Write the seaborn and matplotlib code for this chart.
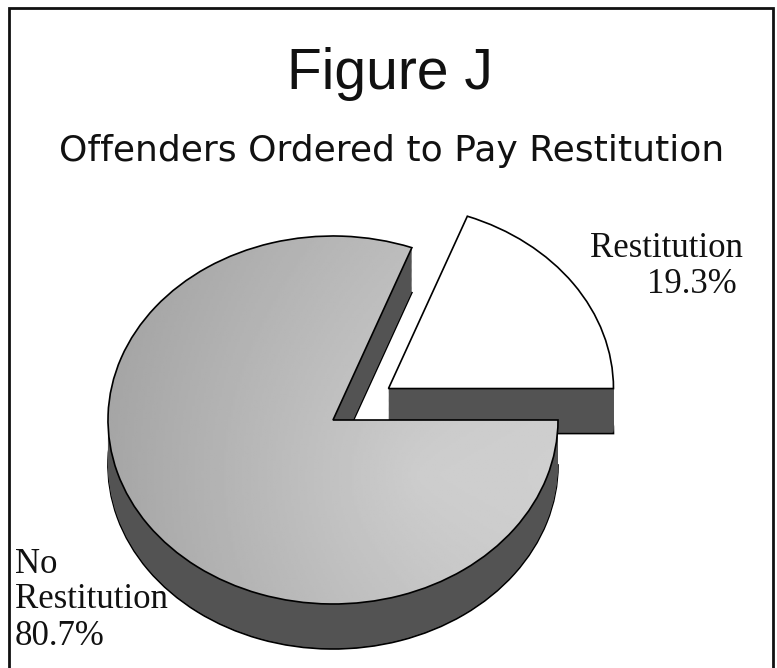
import numpy as np
import matplotlib.pyplot as plt
import seaborn as sns

# data
categories = ["Restitution", "No Restitution"]
shares = [19.3, 80.7]
explode = [0.3, 0.0]
pct_labels = ["19.3%", "80.7%"]

title = "Figure J"
subtitle = "Offenders Ordered to Pay Restitution"

sns.set_theme(style="white")
plt.rcParams["font.family"] = ["Liberation Sans", "DejaVu Sans"]

W, H = 777, 668
fig = plt.figure(figsize=(W / 100, H / 100), dpi=100)
ax = fig.add_axes([0, 0, 1, 1])

# pixel geometry of the tilted pie
cx, cy = 333, 420      # centre of the big slice (px)
rx, ry = 225, 184      # ellipse radii (px)
depth = 45 / ry        # thickness in data units

side = "#535353"
n_layers = 40

# side walls: stack the pie downwards
for k in range(n_layers + 1):
    off = depth * (1 - k / n_layers)
    wedges, _ = ax.pie(shares, explode=explode, startangle=0, counterclock=True,
                       center=(0, -off), colors=[side, side],
                       wedgeprops=dict(linewidth=1.2 if k == 0 else 0,
                                       edgecolor="black"))
    wedges[0].set_zorder(1)
    wedges[1].set_zorder(3)

# top faces
tops, _ = ax.pie(shares, explode=explode, startangle=0, counterclock=True,
                 colors=["white", "none"],
                 wedgeprops=dict(linewidth=1.2, edgecolor="black"))
tops[0].set_zorder(2)
tops[1].set_zorder(5)

# grey shading on the big slice
gx = np.linspace(-1, 1, 200)
gy = np.linspace(-1, 1, 200)
GX, GY = np.meshgrid(gx, gy)
shade = 0.67 + 0.12 * (GX + 1) / 2 + 0.05 * (1 - np.hypot(GX - 0.4, GY + 0.3))
img = ax.imshow(shade, cmap="gray", vmin=0, vmax=1, extent=(-1, 1, -1, 1),
                origin="lower", aspect="auto", zorder=4)
img.set_clip_path(tops[1])

ax.set_aspect("auto")
ax.set_xlim(-cx / rx, (W - cx) / rx)
ax.set_ylim((cy - H) / ry, cy / ry)
ax.axis("off")


def fx(px):
    return px / W


def fy(py):
    return 1 - py / H


# frame
fig.patches.append(plt.Rectangle((fx(9), fy(700)), fx(773) - fx(9), fy(8) - fy(700),
                                 transform=fig.transFigure, fill=False,
                                 edgecolor="#111111", linewidth=2))

fig.text(fx(390), fy(89), title, ha="center", va="baseline", fontsize=41, color="#111111")
fig.text(fx(392), fy(161), subtitle, ha="center", va="baseline", fontsize=26,
         family=["DejaVu Sans"], color="#111111")

serif = ["Liberation Serif", "DejaVu Serif"]
fig.text(fx(590), fy(257), categories[0], ha="left", va="baseline",
         fontsize=25, family=serif, color="#111111")
fig.text(fx(737), fy(293), pct_labels[0], ha="right", va="baseline",
         fontsize=25, family=serif, color="#111111")
fig.text(fx(15), fy(573), "No", ha="left", va="baseline",
         fontsize=25, family=serif, color="#111111")
fig.text(fx(15), fy(608), categories[1].split(" ")[1], ha="left", va="baseline",
         fontsize=25, family=serif, color="#111111")
fig.text(fx(15), fy(645), pct_labels[1], ha="left", va="baseline",
         fontsize=25, family=serif, color="#111111")

fig.savefig("out.png", dpi=100, facecolor="white")
